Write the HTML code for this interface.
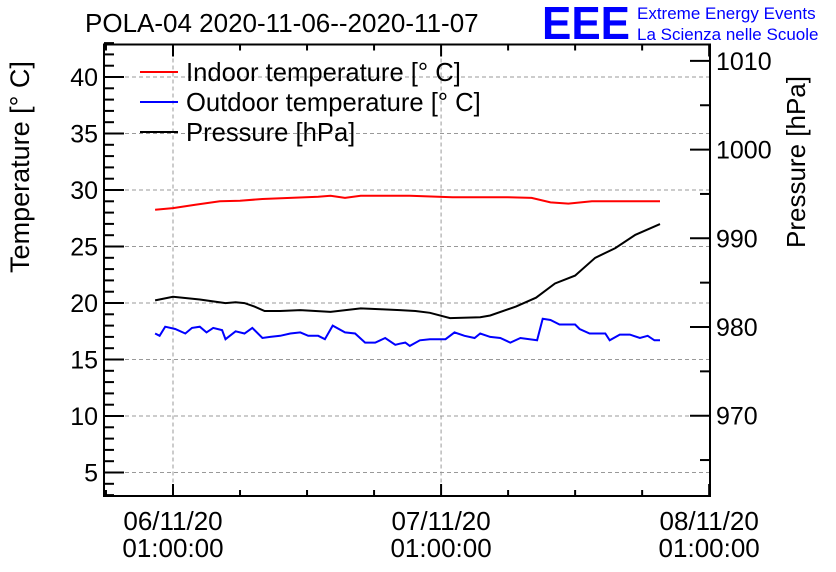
<!DOCTYPE html>
<html><head><meta charset="utf-8"><style>
body{margin:0;background:#fff}
svg{display:block;font-family:"Liberation Sans",sans-serif}
</style></head><body>
<svg id="chart" width="836" height="572" viewBox="0 0 836 572">
<rect width="836" height="572" fill="#fff"/>
<text x="85" y="32" font-size="26">POLA-04 2020-11-06--2020-11-07</text>
<text x="542" y="39" font-size="46" fill="#0000ff" font-weight="bold" textLength="88" lengthAdjust="spacingAndGlyphs">EEE</text>
<text x="637" y="19" font-size="17" fill="#0000ff">Extreme Energy Events</text>
<text x="637" y="40" font-size="17" fill="#0000ff">La Scienza nelle Scuole</text>
<text transform="translate(29,167) rotate(-90)" text-anchor="middle" font-size="27">Temperature [° C]</text>
<text transform="translate(805,162) rotate(-90)" text-anchor="middle" font-size="26">Pressure [hPa]</text>
<g id="grid"></g><g id="axes"></g><g id="series"></g>
<g>
<line x1="140" y1="72" x2="178" y2="72" stroke="#f00" stroke-width="2"/>
<text x="186" y="81" font-size="25.6">Indoor temperature [° C]</text>
<line x1="140" y1="102" x2="178" y2="102" stroke="#00f" stroke-width="2"/>
<text x="186" y="111" font-size="25.6">Outdoor temperature [° C]</text>
<line x1="140" y1="132" x2="178" y2="132" stroke="#000" stroke-width="2"/>
<text x="186" y="141" font-size="25.6">Pressure [hPa]</text>
</g>
</svg>
<script>
const tempTicks=[5,10,15,20,25,30,35,40];
const presTicks=[970,980,990,1000,1010];
const dayTicks=[0,24,48];
const dayLabels=["06/11/20","07/11/20","08/11/20"];
const indoorT=[-1.6,0,2,4.2,6,8,10.5,13,14.1,15.4,16.8,18,21.2,25,30,32.1,33.8,35.4,37.5,40,43.6];
const indoorV=[28.26,28.4,28.7,29.0,29.05,29.2,29.3,29.4,29.5,29.3,29.5,29.5,29.5,29.35,29.35,29.3,28.9,28.8,29.0,29.0,29.0];
const outT=[-1.6,-1.2,-0.7,0.2,1.1,1.7,2.4,3.0,3.6,4.4,4.7,5.6,6.4,7.1,8.0,8.7,9.6,10.5,11.4,12.1,13.0,13.6,14.3,15.4,16.3,17.2,18.1,19.0,19.9,20.3,20.8,21.2,22.1,23.0,24.4,25.2,26.1,27.0,27.5,28.4,29.3,30.2,31.1,32.6,33.1,33.8,34.6,36.0,36.4,37.3,38.7,39.1,40.0,40.9,41.8,42.5,43.1,43.6];
const outV=[17.3,17.1,17.9,17.7,17.3,17.8,17.9,17.4,17.8,17.6,16.8,17.5,17.3,17.8,16.9,17.0,17.1,17.3,17.4,17.1,17.1,16.8,18.0,17.4,17.3,16.5,16.5,16.9,16.3,16.4,16.5,16.2,16.7,16.8,16.8,17.4,17.1,16.9,17.3,17.0,16.9,16.5,16.9,16.7,18.6,18.5,18.1,18.1,17.7,17.3,17.3,16.7,17.2,17.2,16.9,17.1,16.7,16.7];
const presT=[-1.6,0,2.4,4.7,5.6,6.4,7.3,8.2,9.6,11.4,14.1,16.8,18.6,20.3,21.7,23.0,24.8,27.5,28.4,30.7,32.5,34.2,36.0,37.8,39.6,41.4,43.6];
const presV=[983.0,983.4,983.1,982.7,982.8,982.7,982.3,981.8,981.8,981.9,981.7,982.1,982.0,981.9,981.8,981.6,981.0,981.1,981.3,982.3,983.3,984.9,985.8,987.8,988.9,990.4,991.6];
const L=104,R=710,T=44.5,B=496;
const X=h=>173+h*11.17;
const Y=v=>190+(30-v)*11.3;
const Y2=p=>238.3+(990-p)*8.87;
const NS="http://www.w3.org/2000/svg";
function mk(tag,attrs,parent){const e=document.createElementNS(NS,tag);for(const k in attrs)e.setAttribute(k,attrs[k]);parent.appendChild(e);return e;}
const grid=document.getElementById('grid'),axes=document.getElementById('axes'),series=document.getElementById('series');
tempTicks.forEach(v=>{const g=mk('line',{x1:L,x2:R,y1:Y(v),y2:Y(v),stroke:'#999','stroke-dasharray':'4,3'},grid);

});
dayTicks.forEach(d=>{if(X(d)<R-2){const g=mk('line',{x1:X(d),x2:X(d),y1:T,y2:B,stroke:'#999','stroke-dasharray':'4,3'},grid);

}});
const fr=mk('rect',{x:L,y:T,width:R-L,height:B-T,fill:'none',stroke:'#000','stroke-width':2},axes);


for(let v=3;v<=43;v++){const maj=v%5===0;mk('line',{x1:L,x2:L+(maj?20:10),y1:Y(v),y2:Y(v),stroke:'#000','stroke-width':2},axes);}
tempTicks.forEach(v=>{const t=mk('text',{x:98,y:Y(v)+9,'text-anchor':'end','font-size':25},axes);t.textContent=v;

});
for(let p=965;p<=1015;p+=5){const y=Y2(p);if(y<T||y>B)continue;const maj=p%10===0;mk('line',{x1:R,x2:R-(maj?20:10),y1:y,y2:y,stroke:'#000','stroke-width':2},axes);}
presTicks.forEach(p=>{const t=mk('text',{x:716,y:Y2(p)+9,'font-size':25},axes);t.textContent=p;

});
for(let h=-6;h<=48;h+=6){const x=X(h);if(x<L||x>R)continue;const maj=h%24===0;
mk('line',{x1:x,x2:x,y1:B,y2:B-(maj?12:6),stroke:'#000','stroke-width':2},axes);
mk('line',{x1:x,x2:x,y1:T,y2:T+(maj?12:6),stroke:'#000','stroke-width':2},axes);}
dayTicks.forEach((d,i)=>{const t1=mk('text',{x:X(d),y:530,'text-anchor':'middle','font-size':26},axes);t1.textContent=dayLabels[i];


const t2=mk('text',{x:X(d),y:557,'text-anchor':'middle','font-size':26},axes);t2.textContent="01:00:00";

});
function line(ts,vs,yf,col,name){const d=ts.map((t,i)=>(i?'L':'M')+X(t).toFixed(1)+','+yf(vs[i]).toFixed(1)).join('');
const p=mk('path',{d:d,fill:'none',stroke:col,'stroke-width':2},series);

}
line(indoorT,indoorV,Y,'#f00','indoor-temperature-line');
line(outT,outV,Y,'#00f','outdoor-temperature-line');
line(presT,presV,Y2,'#000','pressure-line');
</script>
</body></html>
